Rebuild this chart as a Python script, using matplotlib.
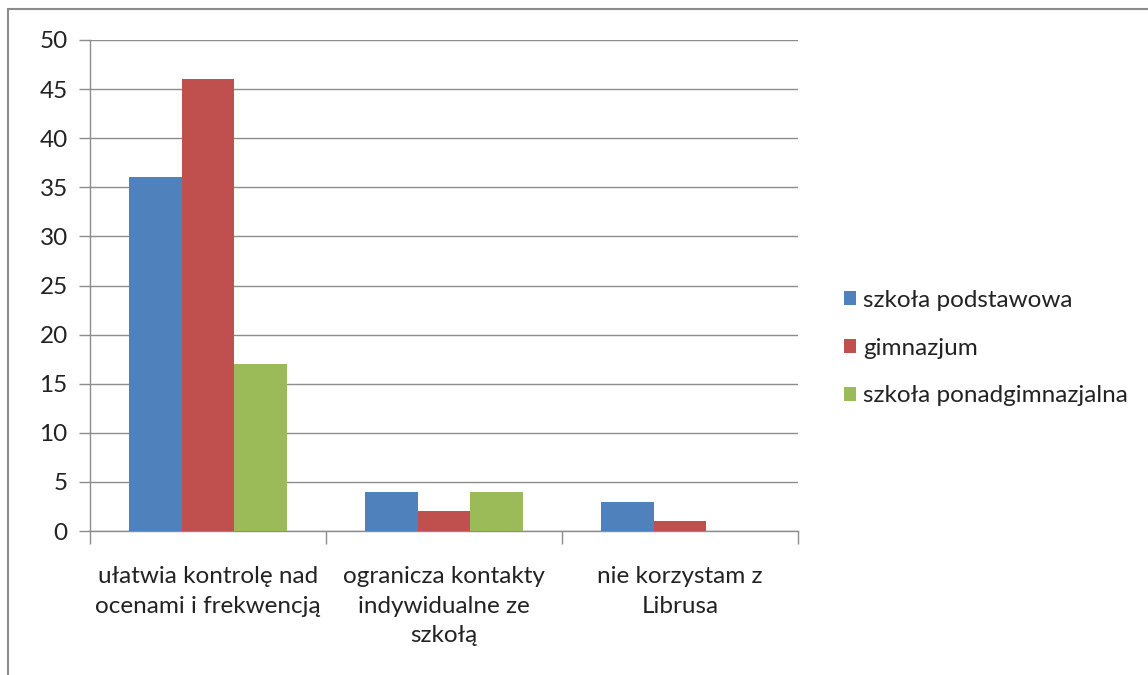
import matplotlib
matplotlib.use("Agg")
import matplotlib.pyplot as plt
import numpy as np
from matplotlib.patches import Rectangle

categories = ["ułatwia kontrolę nad\nocenami i frekwencją",
              "ogranicza kontakty\nindywidualne ze\nszkołą",
              "nie korzystam z\nLibrusa"]
series_names = ["szkoła podstawowa", "gimnazjum", "szkoła ponadgimnazjalna"]
podstawowa = [36, 4, 3]
gimnazjum = [46, 2, 1]
ponadgim = [17, 4, 0]
colors = ["#4F81BD", "#C0504D", "#9BBB59"]
yticks = [0, 5, 10, 15, 20, 25, 30, 35, 40, 45, 50]

plt.rcParams['font.family'] = ['Lato', 'DejaVu Sans']
FS = 17.5

W, H = 1148, 675
fig = plt.figure(figsize=(W/100, H/100), dpi=100)
fig.patches.append(Rectangle((8/W, -0.1), 1.2, (H-9)/H + 0.1, transform=fig.transFigure,
                             fill=False, edgecolor="#8c8c8c", linewidth=1.5))

ax = fig.add_axes([90/W, 1-531/H, (798-90)/W, (531-40)/H])
x = np.arange(len(categories))
bw = 1/4.5
data = [podstawowa, gimnazjum, ponadgim]
for i, (vals, name, c) in enumerate(zip(data, series_names, colors)):
    ax.bar(x + (i-1)*bw, vals, width=bw, color=c, label=name, edgecolor="none", zorder=3)

ax.set_xlim(-0.5, 2.5)
ax.set_ylim(0, 50)
ax.set_yticks(yticks)
ax.set_yticklabels([str(v) for v in yticks], fontsize=FS, color="#222222")
ax.yaxis.grid(True, color="#8c8c8c", linewidth=1, zorder=0)
ax.set_axisbelow(True)
ax.set_xticks([-0.5, 0.5, 1.5, 2.5])
ax.set_xticklabels([])
ax.tick_params(axis='x', length=9, color="#8c8c8c", width=1)
ax.tick_params(axis='y', length=8, color="#8c8c8c", width=1, pad=8)
for sp in ["top", "right"]:
    ax.spines[sp].set_visible(False)
for sp in ["left", "bottom"]:
    ax.spines[sp].set_color("#8c8c8c")
    ax.spines[sp].set_linewidth(1)

for xi, lab in zip(x, categories):
    ax.text(xi, -3.6, lab, ha='center', va='top', fontsize=FS, color="#222222",
            linespacing=1.5, transform=ax.transData)

leg = fig.legend(loc='upper left', bbox_to_anchor=(822/W, 1-268/H), frameon=False,
                 fontsize=FS, handlelength=0.5, handleheight=0.5, handletextpad=0.3,
                 labelspacing=1.1, labelcolor="#222222")

fig.savefig("out.png", dpi=100)
